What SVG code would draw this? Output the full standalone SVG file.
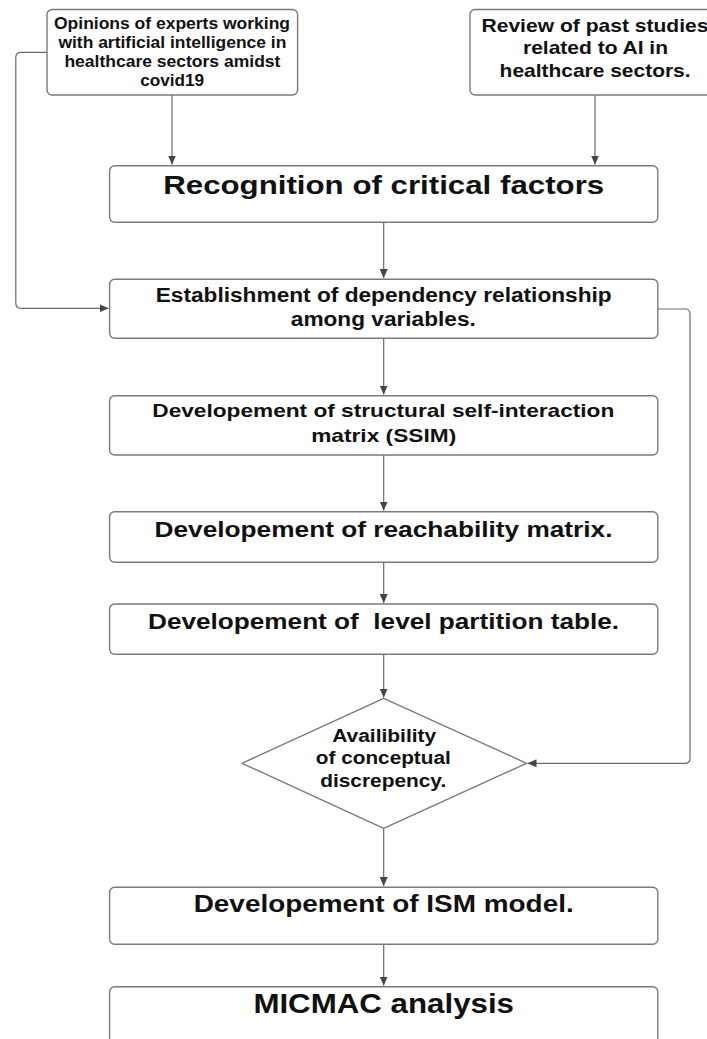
<svg xmlns="http://www.w3.org/2000/svg" width="707" height="1039" viewBox="0 0 707 1039">
<defs>
<style>
.box{fill:#fff;stroke:#7a7a7a;stroke-width:1.4}
.t{font-family:"Liberation Sans",Arial,sans-serif;font-weight:bold;fill:#111;text-anchor:middle}
.c{fill:none;stroke:#6a6a6a;stroke-width:1.2}
</style>
<marker id="ah" markerWidth="10" markerHeight="8" refX="9" refY="4" orient="auto" markerUnits="userSpaceOnUse">
<path d="M0,0 L9,4 L0,8 Z" fill="#444"/>
</marker>
</defs>
<rect width="707" height="1039" fill="#fff"/>
<g id="connectors">
<path class="c" d="M595,95 V164.5" marker-end="url(#ah)"/>
<path class="c" d="M172,95 V164.5" marker-end="url(#ah)"/>
<path class="c" d="M383.7,222.3 V278" marker-end="url(#ah)"/>
<path class="c" d="M383.7,338.3 V394.5" marker-end="url(#ah)"/>
<path class="c" d="M383.7,455 V510.5" marker-end="url(#ah)"/>
<path class="c" d="M383.7,562.3 V603" marker-end="url(#ah)"/>
<path class="c" d="M383.7,654.3 V697.5" marker-end="url(#ah)"/>
<path class="c" d="M383.7,828.3 V886" marker-end="url(#ah)"/>
<path class="c" d="M383.7,944.3 V985.5" marker-end="url(#ah)"/>
<path class="c" d="M47,52.3 H21 Q15.8,52.3 15.8,57.5 V303 Q15.8,308.3 21,308.3 H108.5" marker-end="url(#ah)"/>
<path class="c" d="M657.8,309 H685 Q690,309 690,314 V758.3 Q690,763.3 685,763.3 H527.5" marker-end="url(#ah)"/>
</g>
<g id="n_opinions">
<rect class="box" x="47" y="9.5" width="250.6" height="85.5" rx="5"/>
<text class="t" font-size="16" x="172" y="29.3" textLength="236" lengthAdjust="spacingAndGlyphs">Opinions of experts working</text>
<text class="t" font-size="16" x="172.4" y="48.3" textLength="228" lengthAdjust="spacingAndGlyphs">with artificial intelligence in</text>
<text class="t" font-size="16" x="172.4" y="67.3" textLength="216" lengthAdjust="spacingAndGlyphs">healthcare sectors amidst</text>
<text class="t" font-size="16" x="172.2" y="86" textLength="64" lengthAdjust="spacingAndGlyphs">covid19</text>
</g>
<g id="n_review">
<rect class="box" x="470" y="9.5" width="250" height="85.5" rx="5"/>
<text class="t" font-size="18.5" x="595" y="31.7" textLength="227" lengthAdjust="spacingAndGlyphs">Review of past studies</text>
<text class="t" font-size="18.5" x="595.5" y="54" textLength="145" lengthAdjust="spacingAndGlyphs">related to AI in</text>
<text class="t" font-size="18.5" x="595.1" y="76.7" textLength="191" lengthAdjust="spacingAndGlyphs">healthcare sectors.</text>
</g>
<g id="n_recognition">
<rect class="box" x="109.6" y="165.7" width="548.2" height="56.6" rx="5"/>
<text class="t" font-size="26" x="383.7" y="194.3" textLength="441" lengthAdjust="spacingAndGlyphs">Recognition of critical factors</text>
</g>
<g id="n_establishment">
<rect class="box" x="109.6" y="279.3" width="548.2" height="59" rx="5"/>
<text class="t" font-size="20" x="383.7" y="301.7" textLength="456" lengthAdjust="spacingAndGlyphs">Establishment of dependency relationship</text>
<text class="t" font-size="20" x="383.3" y="326" textLength="185" lengthAdjust="spacingAndGlyphs">among variables.</text>
</g>
<g id="n_ssim">
<rect class="box" x="109.6" y="395.7" width="548.2" height="59.3" rx="5"/>
<text class="t" font-size="18.5" x="383.3" y="417.3" textLength="462" lengthAdjust="spacingAndGlyphs">Developement of structural self-interaction</text>
<text class="t" font-size="18.5" x="383.7" y="442.3" textLength="145" lengthAdjust="spacingAndGlyphs">matrix (SSIM)</text>
</g>
<g id="n_reachability">
<rect class="box" x="109.6" y="511.7" width="548.2" height="50.6" rx="5"/>
<text class="t" font-size="22" x="383.5" y="536.7" textLength="458" lengthAdjust="spacingAndGlyphs">Developement of reachability matrix.</text>
</g>
<g id="n_level">
<rect class="box" x="109.6" y="604" width="548.2" height="50.3" rx="5"/>
<text class="t" font-size="22.5" x="383.5" y="629" textLength="471" lengthAdjust="spacingAndGlyphs" xml:space="preserve">Developement of  level partition table.</text>
</g>
<g id="n_discrepancy">
<path class="box" d="M383.7,698.3 L526.6,763.3 L383.7,828.3 L242,763.3 Z" stroke-linejoin="round"/>
<text class="t" font-size="17.5" x="384.2" y="741.7" textLength="104" lengthAdjust="spacingAndGlyphs">Availibility</text>
<text class="t" font-size="17.5" x="383.3" y="764.3" textLength="135" lengthAdjust="spacingAndGlyphs">of conceptual</text>
<text class="t" font-size="17.5" x="383.2" y="786.7" textLength="126" lengthAdjust="spacingAndGlyphs">discrepency.</text>
</g>
<g id="n_ism">
<rect class="box" x="109.6" y="887.3" width="548.2" height="57" rx="5"/>
<text class="t" font-size="23" x="383.7" y="911.7" textLength="380" lengthAdjust="spacingAndGlyphs">Developement of ISM model.</text>
</g>
<g id="n_micmac">
<rect class="box" x="109.6" y="986.7" width="548.2" height="70" rx="5"/>
<text class="t" font-size="28" x="383.7" y="1013.3" textLength="260.6" lengthAdjust="spacingAndGlyphs">MICMAC analysis</text>
</g>
</svg>
